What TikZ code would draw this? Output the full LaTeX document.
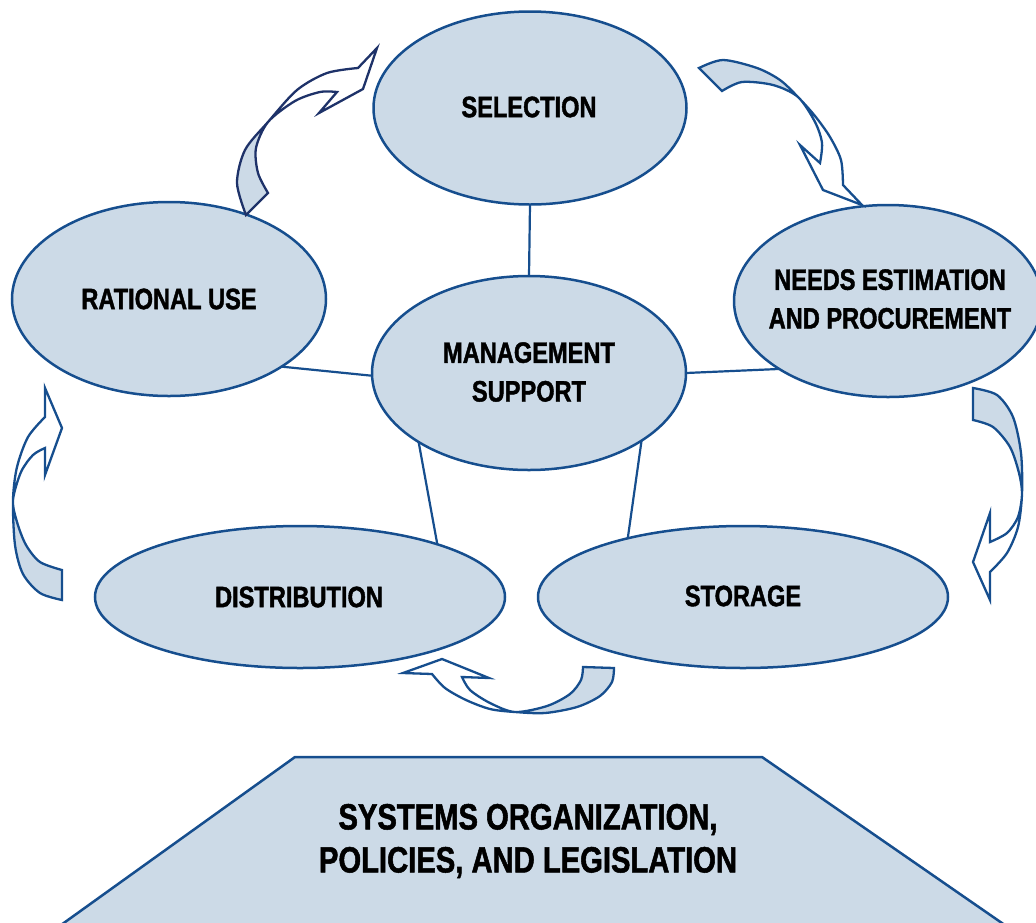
\documentclass[tikz,border=0pt]{standalone}
\usepackage{fontspec}
\newfontfamily\labfont[FakeStretch=0.8, BoldFeatures={FakeBold=1.4}]{Liberation Sans}
\usetikzlibrary{shapes.geometric}
\definecolor{cyclefill}{RGB}{204,218,231}
\definecolor{cycleline}{RGB}{22,78,142}
\definecolor{navyline}{RGB}{30,50,105}
\tikzset{
  stage/.style={ellipse, draw=cycleline, fill=cyclefill, line width=2.5pt, inner sep=0pt, outer sep=0pt},
  stagetext/.style={font=\labfont\bfseries\fontsize{29.5}{38.7}\selectfont, align=center, text=black, inner sep=0pt},
  link/.style={draw=cycleline, line width=2.2pt},
  bandline/.style={draw=cycleline, line width=2.3pt, line join=miter},
  bandback/.style={fill=cyclefill},
}
\begin{document}
\begin{tikzpicture}[x=1pt,y=-1pt]
\useasboundingbox (0,0) rectangle (1036,922);
\clip (0,0) rectangle (1036,922);

% base: organisation, policies and legislation
\fill[cyclefill] (295,757) -- (762,757) -- (1012,930) -- (54,930) -- cycle;
\draw[cycleline, line width=2.5pt] (54,930) -- (295,757) -- (762,757) -- (1012,930);
\node[font=\labfont\bfseries\fontsize{36.5}{43}\selectfont, align=center, inner sep=0pt] (base) at (528,841)
  {SYSTEMS ORGANIZATION,\\POLICIES, AND LEGISLATION};

% the five stages and the hub
\node[stage, minimum width=313pt, minimum height=193pt] (sel) at (530,108) {};
\node[stage, minimum width=314pt, minimum height=194pt] (ru)  at (169,299) {};
\node[stage, minimum width=308pt, minimum height=192pt] (nd)  at (888,301) {};
\node[stage, minimum width=314pt, minimum height=194pt] (mg)  at (529,373) {};
\node[stage, minimum width=410pt, minimum height=142pt] (di)  at (300,597) {};
\node[stage, minimum width=410pt, minimum height=142pt] (st)  at (743,597) {};

% spokes from the hub
\draw[link] (sel.south) -- (mg.north);
\draw[link] (ru.-31.6) -- (mg.181);
\draw[link] (mg.-0.7) -- (nd.212.6);
\draw[link] (mg.212.6) -- (di.21.6);
\draw[link] (mg.-31.7) -- (st.153.8);

\node[stagetext] (tsel) at (529,107) {SELECTION};
\node[stagetext] (tru)  at (169,299) {RATIONAL USE};
\node[stagetext] (tnd)  at (890,299) {NEEDS ESTIMATION\\AND PROCUREMENT};
\node[stagetext] (tmg)  at (529,372) {MANAGEMENT\\SUPPORT};
\node[stagetext] (tdi)  at (299,597) {DISTRIBUTION};
\node[stagetext] (tst)  at (743,596) {STORAGE};

% curved ribbon arrows between the stages
% rational use -> selection
\path[save path=\bandA]
  plot[smooth] coordinates {(246,215) (237,183) (245,150) (268,122) (297,90) (327,73) (358,68)}
  -- (377,48) -- (363,89) -- (319,113) -- (337,92)
  -- plot[smooth] coordinates {(337,92) (320,92) (295,101) (268,122) (256,148) (258,173) (268,193)}
  -- cycle;
\fill[white, use path=\bandA];
\begin{scope}\clip (220,122) rectangle (300,230); \fill[bandback, use path=\bandA]; \end{scope}
\draw[bandline, draw=navyline, use path=\bandA];

% selection -> needs estimation
\path[save path=\bandB]
  plot[smooth] coordinates {(699,68) (723,60) (757,68) (780,80) (798,97) (815,116) (830,137) (841,160) (843,185)}
  -- (862,205) -- (823,190) -- (800,145) -- (820,163)
  -- plot[smooth] coordinates {(820,163) (822,143) (815,122) (798,97) (773,85) (742,82) (722,91)}
  -- cycle;
\fill[white, use path=\bandB];
\begin{scope}\clip (690,40) rectangle (798,110); \fill[bandback, use path=\bandB]; \end{scope}
\draw[bandline, use path=\bandB];

% needs estimation -> storage
\path[save path=\bandC]
  plot[smooth] coordinates {(973,388) (997,395) (1013,417) (1021,453) (1022,494) (1018,527) (1007,553) (990,572)}
  -- (990,600) -- (973,562) -- (990,513) -- (990,542)
  -- plot[smooth] coordinates {(990,542) (1007,533) (1018,517) (1022,494) (1019,473) (1010,447) (993,427) (973,420)}
  -- cycle;
\fill[white, use path=\bandC];
\begin{scope}\clip (960,380) rectangle (1036,494); \fill[bandback, use path=\bandC]; \end{scope}
\draw[bandline, use path=\bandC];

% storage -> distribution
\path[save path=\bandD]
  plot[smooth] coordinates {(614,668) (612,682) (600,696) (577,707) (545,713) (515,712) (490,709) (466,700) (445,688) (432,674)}
  -- (403,673) -- (442,659) -- (489,678) -- (462,677)
  -- plot[smooth] coordinates {(462,677) (470,690) (490,703) (515,712) (547,706) (570,694) (581,680) (583,667)}
  -- cycle;
\fill[white, use path=\bandD];
\begin{scope}\clip (515,650) rectangle (630,720); \fill[bandback, use path=\bandD]; \end{scope}
\draw[bandline, use path=\bandD];

% distribution -> rational use
\path[save path=\bandE]
  plot[smooth] coordinates {(62,600) (40,593) (23,574) (15,545) (13,500) (17,467) (28,437) (45,417)}
  -- (45,388) -- (62,428) -- (45,475) -- (45,448)
  -- plot[smooth] coordinates {(45,448) (33,455) (21,472) (13,500) (17,522) (26,545) (40,562) (62,570)}
  -- cycle;
\fill[white, use path=\bandE];
\begin{scope}\clip (0,500) rectangle (80,610); \fill[bandback, use path=\bandE]; \end{scope}
\draw[bandline, use path=\bandE];
\end{tikzpicture}
\end{document}
